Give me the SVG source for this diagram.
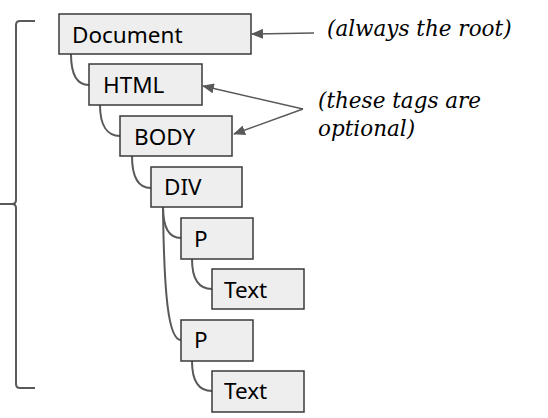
<svg xmlns="http://www.w3.org/2000/svg" width="548" height="418" viewBox="0 0 548 418">
<defs>
<style>
.box{fill:#eeeeee;stroke:#3a3a3a;stroke-width:1.5}
.lbl{font-family:"Noto Sans","Open Sans",sans-serif;font-size:22.5px;fill:#000}
.note{font-family:"DejaVu Serif","Liberation Serif",serif;font-style:italic;font-size:21.5px;fill:#000}
.con{fill:none;stroke:#595959;stroke-width:2}
.arr{fill:none;stroke:#595959;stroke-width:1.5;marker-end:url(#ah)}
</style>
<marker id="ah" viewBox="0 0 12 10" refX="11" refY="5" markerWidth="12" markerHeight="10" markerUnits="userSpaceOnUse" orient="auto">
<path d="M0,0 L12,5 L0,10 Z" fill="#595959"/>
</marker>
</defs>
<rect width="548" height="418" fill="#ffffff"/>
<g id="bracket">
<path class="con" d="M35,21 L20,21 Q16,21 16,25 L16,200 Q16,204 12,204 L0,204 M12,204 Q16,204 16,208 L16,384 Q16,388 20,388 L35,388"/>
</g>
<g id="connectors">
<path class="con" d="M71,54 C71,74 77,85 89,85"/>
<path class="con" d="M100,105 C100,125 107,136 120,136"/>
<path class="con" d="M132,156 C132,177 138,188 151,188"/>
<path class="con" d="M163,207 C163,228 169,238 181,238"/>
<path class="con" d="M163,207 C164,292 168,340 181,340"/>
<path class="con" d="M192,259 C192,279 199,289 212,289"/>
<path class="con" d="M192,361 C192,381 199,391 212,391"/>
<path class="arr" d="M314,33 L252,34"/>
<path class="arr" d="M303,109 L203,86"/>
<path class="arr" d="M303,109 L234,134"/>
</g>
<g id="document"><rect class="box" x="59" y="14" width="192" height="40"/><text class="lbl" x="72" y="43">Document</text></g>
<g id="html"><rect class="box" x="89" y="64" width="113" height="41"/><text class="lbl" x="103" y="93">HTML</text></g>
<g id="body"><rect class="box" x="120" y="116" width="112" height="40"/><text class="lbl" x="134" y="145">BODY</text></g>
<g id="div"><rect class="box" x="151" y="167" width="91" height="40"/><text class="lbl" x="164" y="195">DIV</text></g>
<g id="p1"><rect class="box" x="181" y="218" width="72" height="41"/><text class="lbl" x="194" y="247">P</text></g>
<g id="text1"><rect class="box" x="212" y="269" width="92" height="40"/><text class="lbl" x="224" y="298">Text</text></g>
<g id="p2"><rect class="box" x="181" y="320" width="72" height="41"/><text class="lbl" x="194" y="348">P</text></g>
<g id="text2"><rect class="box" x="212" y="371" width="92" height="41"/><text class="lbl" x="224" y="399">Text</text></g>
<g id="notes">
<text class="note" x="327" y="36">(always the root)</text>
<text class="note" x="318" y="108">(these tags are</text>
<text class="note" x="318" y="136">optional)</text>
</g>
</svg>
